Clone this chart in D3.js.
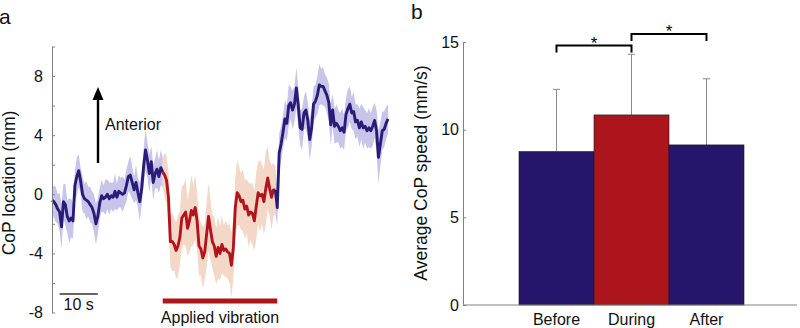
<!DOCTYPE html>
<html>
<head>
<meta charset="utf-8">
<script src="https://cdn.jsdelivr.net/npm/d3@7"></script>
<style>
  body { margin: 0; background: #fff; }
  text { font-family: "Liberation Sans", Arial, sans-serif; }
</style>
</head>
<body>
<svg id="chart" width="800" height="328"></svg>
<script>
// ---- panel a: CoP trace, sampled every 0.5 s ----
const dt = 0.5;
const vibStart = 29, vibEnd = 59;
const scaleBarT = [2, 12];

const copBefore = [
  -0.4, -0.5, -0.7, -1.0, -1.2, -2.2, -0.5, -0.7, -1.5, -1.8,
  -1.6, -1.8, 0.6, 1.2, 1.6, 0.9, 0.0, -0.3, -0.4, -0.5,
  -0.7, -0.9, -1.3, -2.0, -1.5, -0.6, -0.1, -0.3, -0.2, 0.0,
  -0.3, -0.1, -0.2, 0.2, -0.2, 0.2, 0.1, 0.0, 0.1, 0.6,
  1.2, 1.3, 0.8, 0.3, 0.8, 0.1, -0.5, 0.4, 1.9, 3.0,
  2.3, 1.4, 2.2, 0.8, 1.4, 1.7, 1.2, 1.8, 1.5
];
const sdBefore = [
  0.9, 1.1, 1.2, 1.0, 1.3, 1.5, 1.2, 1.4, 1.1, 1.5,
  1.3, 1.2, 1.0, 1.3, 1.1, 0.9, 1.2, 1.0, 1.3, 1.0,
  1.2, 1.1, 1.3, 1.4, 1.2, 1.0, 1.1, 0.9, 1.2, 1.0,
  1.1, 0.9, 1.0, 1.2, 0.9, 1.1, 1.0, 1.2, 0.9, 1.1,
  1.0, 1.3, 1.1, 0.9, 1.2, 1.0, 1.3, 1.1, 1.2, 1.4,
  1.2, 1.3, 1.1, 1.2, 1.0, 1.3, 1.1, 1.2, 1.0
];
const copDuring = [
  1.3, 0.95, -0.2, -3.2, -3.2, -3.4, -3.8, -3.5, -2.9, -1.6,
  -1.4, -1.2, -2.3, -1.8, -1.1, -1.4, -0.9, -1.8, -3.5, -3.7,
  -4.3, -3.9, -2.7, -1.5, -2.4, -3.2, -3.5, -4.2, -3.6, -4.0,
  -3.4, -3.8, -3.7, -3.9, -4.0, -4.8, -3.6, -0.9, 0.1, -0.1,
  -0.5, -0.4, -1.0, -0.8, -1.4, -1.2, -1.3, -1.8, -0.8, 0.1,
  -0.1, 0.0, -0.5, 0.4, 1.1, 0.4, -0.2, 0.3, 0.3
];
const sdDuring = [
  1.5, 1.6, 1.8, 1.7, 2.0, 1.8, 1.9, 2.1, 1.8, 2.2,
  2.0, 2.3, 1.9, 2.1, 2.4, 2.0, 2.2, 1.9, 2.0, 1.8,
  2.1, 1.9, 2.2, 2.3, 2.0, 1.8, 2.0, 1.9, 2.1, 1.8,
  2.0, 1.7, 1.9, 1.8, 2.0, 2.2, 2.1, 2.0, 2.2, 2.0,
  1.9, 2.1, 2.0, 1.8, 2.2, 1.9, 2.1, 2.0, 2.3, 2.1,
  2.4, 2.0, 2.2, 2.5, 2.1, 1.9, 2.2, 1.8, 1.6
];
const copAfter = [
  -0.9, 2.8, 3.4, 4.2, 5.1, 4.8, 6.0, 6.2, 5.7, 6.1,
  7.2, 6.0, 4.5, 4.4, 5.5, 5.7, 5.0, 3.7, 4.5, 6.1,
  6.3, 6.7, 7.4, 7.3, 7.3, 7.0, 6.7, 6.2, 4.7, 5.7,
  4.6, 4.8, 4.6, 4.3, 4.5, 4.2, 5.4, 5.8, 6.1, 5.5,
  5.6, 4.9, 5.0, 4.5, 4.9, 4.5, 4.6, 4.3, 4.5, 4.3,
  4.6, 5.0, 4.3, 2.5, 3.4, 4.3, 4.4, 4.8, 5.1
];
const sdAfter = [
  1.2, 1.3, 1.2, 1.1, 1.3, 1.2, 1.4, 1.1, 1.3, 1.2,
  1.4, 1.3, 1.2, 1.4, 1.1, 1.3, 1.2, 1.4, 1.3, 1.2,
  1.1, 1.3, 1.4, 1.2, 1.3, 1.1, 1.2, 1.3, 1.4, 1.1,
  1.2, 1.3, 1.1, 1.2, 1.3, 1.2, 1.1, 1.3, 1.2, 1.1,
  1.3, 1.2, 1.1, 1.3, 1.2, 1.4, 1.1, 1.2, 1.3, 1.2,
  1.3, 1.2, 1.4, 1.8, 1.5, 1.3, 1.2, 1.1, 1.0
];
const copTicks = [-8, -4, 0, 4, 8];

// ---- panel b: average CoP speed ----
const conditions = ["Before", "During", "After"];
const speedMean = [8.75, 10.84, 9.13];
const speedSd = [3.55, 3.46, 3.77];
const speedTicks = [0, 5, 10, 15];
const sigPairs = [["Before", "During", 14.8], ["During", "After", 15.45]];

const blue = "#25166b", red = "#ad151d";
const lineBlue = "#2a1b78", lineRed = "#b3141c";
const bandBlue = "#c9c4ea", bandRed = "#f3d8c8";
const axisGrey = "#808080";

const svg = d3.select("#chart");

// ================= panel a =================
const x = d3.scaleLinear().domain([0, 88]).range([52, 388]);
const y = d3.scaleLinear().domain([-8, 10]).range([312.5, 46.5]);

function toPoints(vals, sds, t0) {
    return vals.map((v, i) => ({ t: t0 + i * dt, v: v, sd: sds[i] }));
}
const before = toPoints(copBefore, sdBefore, 0);
const during = [before[before.length - 1]].concat(toPoints(copDuring, sdDuring, 29.5));
const after = [during[during.length - 1]].concat(toPoints(copAfter, sdAfter, 59));

const segments = [
    { pts: before, line: lineBlue, band: bandBlue },
    { pts: during, line: lineRed, band: bandRed },
    { pts: after, line: lineBlue, band: bandBlue }
];

const area = d3.area()
    .x(d => x(d.t))
    .y0(d => y(d.v - d.sd))
    .y1(d => y(d.v + d.sd));
const line = d3.line()
    .x(d => x(d.t))
    .y(d => y(d.v));

const pa = svg.append("g");
pa.selectAll("path.band")
    .data(segments)
    .enter().append("path")
    .attr("class", "band")
    .attr("d", d => area(d.pts))
    .attr("fill", d => d.band)
    .attr("stroke", "none");
pa.selectAll("path.trace")
    .data(segments)
    .enter().append("path")
    .attr("class", "trace")
    .attr("d", d => line(d.pts))
    .attr("fill", "none")
    .attr("stroke", d => d.line)
    .attr("stroke-width", 2.9)
    .attr("stroke-linejoin", "round");

const axA = svg.append("g")
    .attr("transform", "translate(" + x(0) + ",0)")
    .call(d3.axisLeft(y)
        .tickValues(d3.range(-8, 11, 2))
        .tickSize(-3)
        .tickSizeOuter(0)
        .tickPadding(9)
        .tickFormat(d => copTicks.includes(d) ? String(d) : ""));
axA.selectAll("path, line").attr("stroke", axisGrey);
axA.selectAll("text").attr("font-size", 16).attr("fill", "#111")
    .attr("font-family", "Liberation Sans, Arial, sans-serif");

svg.append("text")
    .attr("transform", "translate(15," + 183 + ") rotate(-90)")
    .attr("text-anchor", "middle")
    .attr("font-size", 17.5)
    .attr("fill", "#111")
    .text("CoP location (mm)");

svg.append("text").attr("x", -1).attr("y", 24)
    .attr("font-size", 21).attr("fill", "#111").text("a");

// arrow
svg.append("line")
    .attr("x1", 98).attr("x2", 98).attr("y1", 163).attr("y2", 98)
    .attr("stroke", "#000").attr("stroke-width", 2.4);
svg.append("path")
    .attr("d", "M98,87 L92.5,100 L103.5,100 Z")
    .attr("fill", "#000");
svg.append("text").attr("x", 105).attr("y", 130)
    .attr("font-size", 16).attr("fill", "#111").text("Anterior");

// 10 s scale bar
svg.append("line")
    .attr("x1", x(scaleBarT[0])).attr("x2", x(scaleBarT[1]))
    .attr("y1", 294).attr("y2", 294)
    .attr("stroke", "#333").attr("stroke-width", 1.5);
svg.append("text")
    .attr("x", (x(scaleBarT[0]) + x(scaleBarT[1])) / 2).attr("y", 310)
    .attr("text-anchor", "middle").attr("font-size", 16).attr("fill", "#111")
    .text("10 s");

// vibration bar
svg.append("line")
    .attr("x1", x(vibStart)).attr("x2", x(vibEnd))
    .attr("y1", 301).attr("y2", 301)
    .attr("stroke", red).attr("stroke-width", 5);
svg.append("text")
    .attr("x", (x(vibStart) + x(vibEnd)) / 2).attr("y", 323)
    .attr("text-anchor", "middle").attr("font-size", 16).attr("fill", "#111")
    .text("Applied vibration");

// ================= panel b =================
const xb = d3.scaleBand().domain(conditions).range([519, 744]).padding(0);
const yb = d3.scaleLinear().domain([0, 15]).range([305, 42]);

const pb = svg.append("g");
pb.selectAll("line.err")
    .data(conditions)
    .enter().append("line")
    .attr("class", "err")
    .attr("x1", d => xb(d) + xb.bandwidth() / 2)
    .attr("x2", d => xb(d) + xb.bandwidth() / 2)
    .attr("y1", (d, i) => yb(speedMean[i]))
    .attr("y2", (d, i) => yb(speedMean[i] + speedSd[i]))
    .attr("stroke", "#8a8a8a").attr("stroke-width", 1);
pb.selectAll("line.cap")
    .data(conditions)
    .enter().append("line")
    .attr("class", "cap")
    .attr("x1", d => xb(d) + xb.bandwidth() / 2 - 3.5)
    .attr("x2", d => xb(d) + xb.bandwidth() / 2 + 3.5)
    .attr("y1", (d, i) => yb(speedMean[i] + speedSd[i]))
    .attr("y2", (d, i) => yb(speedMean[i] + speedSd[i]))
    .attr("stroke", "#8a8a8a").attr("stroke-width", 1);
pb.selectAll("rect")
    .data(conditions)
    .enter().append("rect")
    .attr("x", d => xb(d))
    .attr("width", xb.bandwidth())
    .attr("y", (d, i) => yb(speedMean[i]))
    .attr("height", (d, i) => yb(0) - yb(speedMean[i]))
    .attr("fill", d => d === "During" ? red : blue)
    .attr("stroke", "#1a1a1a").attr("stroke-width", 0.6);

const axB = svg.append("g")
    .attr("transform", "translate(463,0)")
    .call(d3.axisLeft(yb)
        .tickValues(speedTicks)
        .tickSize(-3)
        .tickSizeOuter(0)
        .tickPadding(4));
axB.selectAll("path, line").attr("stroke", axisGrey);
axB.selectAll("text").attr("font-size", 16).attr("fill", "#111")
    .attr("font-family", "Liberation Sans, Arial, sans-serif");

svg.append("line")
    .attr("x1", 463).attr("x2", 797).attr("y1", yb(0)).attr("y2", yb(0))
    .attr("stroke", axisGrey).attr("stroke-width", 1);

const axX = svg.append("g")
    .attr("transform", "translate(0," + yb(0) + ")")
    .call(d3.axisBottom(xb).tickSize(0).tickPadding(8.5));
axX.select(".domain").remove();
axX.selectAll("text").attr("font-size", 16).attr("fill", "#111")
    .attr("font-family", "Liberation Sans, Arial, sans-serif");

svg.append("text")
    .attr("transform", "translate(427,173) rotate(-90)")
    .attr("text-anchor", "middle")
    .attr("font-size", 17.5)
    .attr("fill", "#111")
    .text("Average CoP speed (mm/s)");

svg.append("text").attr("x", 411).attr("y", 19)
    .attr("font-size", 21).attr("fill", "#111").text("b");

// significance brackets
sigPairs.forEach(([a, b, lvl]) => {
    const x1 = xb(a) + xb.bandwidth() / 2;
    const x2 = xb(b) + xb.bandwidth() / 2;
    const yy = yb(lvl);
    svg.append("path")
        .attr("d", "M" + x1 + "," + (yy + 7) + "V" + yy + "H" + x2 + "V" + (yy + 7))
        .attr("fill", "none").attr("stroke", "#000").attr("stroke-width", 2);
    svg.append("text")
        .attr("x", (x1 + x2) / 2).attr("y", yy + 3)
        .attr("text-anchor", "middle").attr("font-size", 17).attr("fill", "#000")
        .text("*");
});
</script>
</body>
</html>
